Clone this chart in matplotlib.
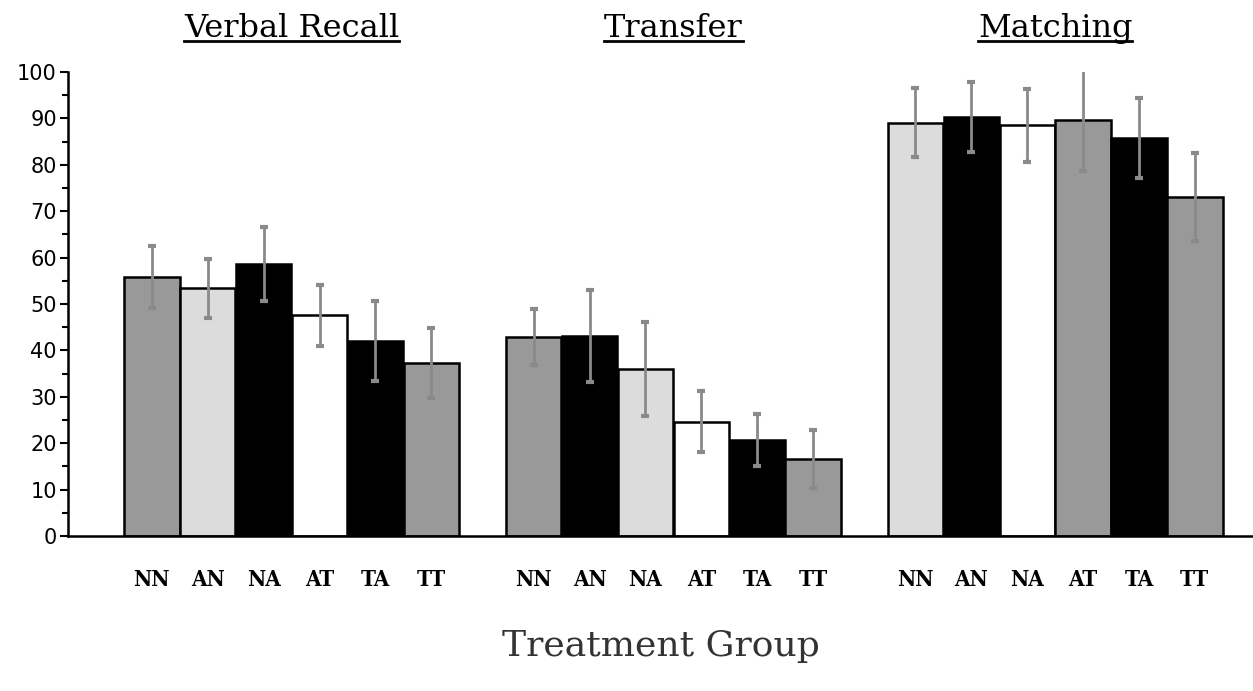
import matplotlib
matplotlib.use("Agg")
import matplotlib.pyplot as plt
import numpy as np

# mean scores and error bar half-widths per task
tasks = ['Verbal Recall', 'Transfer', 'Matching']
groups = ['NN', 'AN', 'NA', 'AT', 'TA', 'TT']
recall_mean = [55.8, 53.4, 58.6, 47.6, 42.0, 37.3]
recall_err = [6.6, 6.4, 8.0, 6.6, 8.6, 7.6]
transfer_mean = [42.9, 43.1, 36.0, 24.6, 20.7, 16.6]
transfer_err = [6.0, 9.9, 10.2, 6.6, 5.7, 6.3]
matching_mean = [89.1, 90.3, 88.5, 89.7, 85.7, 73.0]
matching_err = [7.4, 7.5, 7.8, 11.0, 8.6, 9.5]

# fill shades per bar
recall_col = ['#999999', '#dcdcdc', '#000000', '#ffffff', '#000000', '#999999']
transfer_col = ['#999999', '#000000', '#dcdcdc', '#ffffff', '#000000', '#999999']
matching_col = ['#dcdcdc', '#000000', '#ffffff', '#999999', '#000000', '#999999']

means = [recall_mean, transfer_mean, matching_mean]
errs = [recall_err, transfer_err, matching_err]
cols = [recall_col, transfer_col, matching_col]

fig = plt.figure(figsize=(12.53, 6.91), dpi=100)
ax = fig.add_axes([68/1253, 155/691, 1 - 68/1253, 464/691])

group_step = 6.83
xticks = []
xlabels = []
for g in range(3):
    x = g * group_step + np.arange(6)
    ax.bar(x, means[g], width=0.99, color=cols[g], edgecolor='black', linewidth=1.8, zorder=2)
    ax.errorbar(x, means[g], yerr=errs[g], fmt='none', ecolor='#8a8a8a',
                elinewidth=2, capsize=3, capthick=3, zorder=3)
    xticks += list(x)
    xlabels += groups

ax.set_xlim(-1.5, 19.7)
ax.set_ylim(0, 100)
ax.spines['top'].set_visible(False)
ax.spines['right'].set_visible(False)
ax.spines['left'].set_linewidth(1.8)
ax.spines['bottom'].set_linewidth(1.8)

ax.set_yticks(np.arange(0, 101, 10))
ax.set_yticks(np.arange(5, 100, 10), minor=True)
ax.tick_params(axis='y', which='major', length=6, width=1.5, labelsize=15, pad=2)
ax.tick_params(axis='y', which='minor', length=4, width=1.5)
ax.set_xticks(xticks)
ax.set_xticklabels(xlabels, family='DejaVu Serif', fontstretch='condensed',
                   fontweight='bold', fontsize=16)
ax.tick_params(axis='x', length=0, pad=24)

ax.set_xlabel('Treatment Group', family='DejaVu Serif', fontsize=26,
              labelpad=27, color='#333333')

# underlined task titles above each group
titles = []
for g, name in enumerate(tasks):
    t = ax.text(g * group_step + 2.5, 107.6, name, ha='center', va='baseline',
                family='DejaVu Serif', fontsize=23, clip_on=False)
    titles.append(t)

fig.canvas.draw()
inv = ax.transData.inverted()
for t in titles:
    bb = t.get_window_extent()
    x0, _ = inv.transform((bb.x0, bb.y0))
    x1, _ = inv.transform((bb.x1, bb.y0))
    ax.plot([x0, x1], [106.6, 106.6], color='black', linewidth=2, clip_on=False)

fig.savefig('out.png', dpi=100)
